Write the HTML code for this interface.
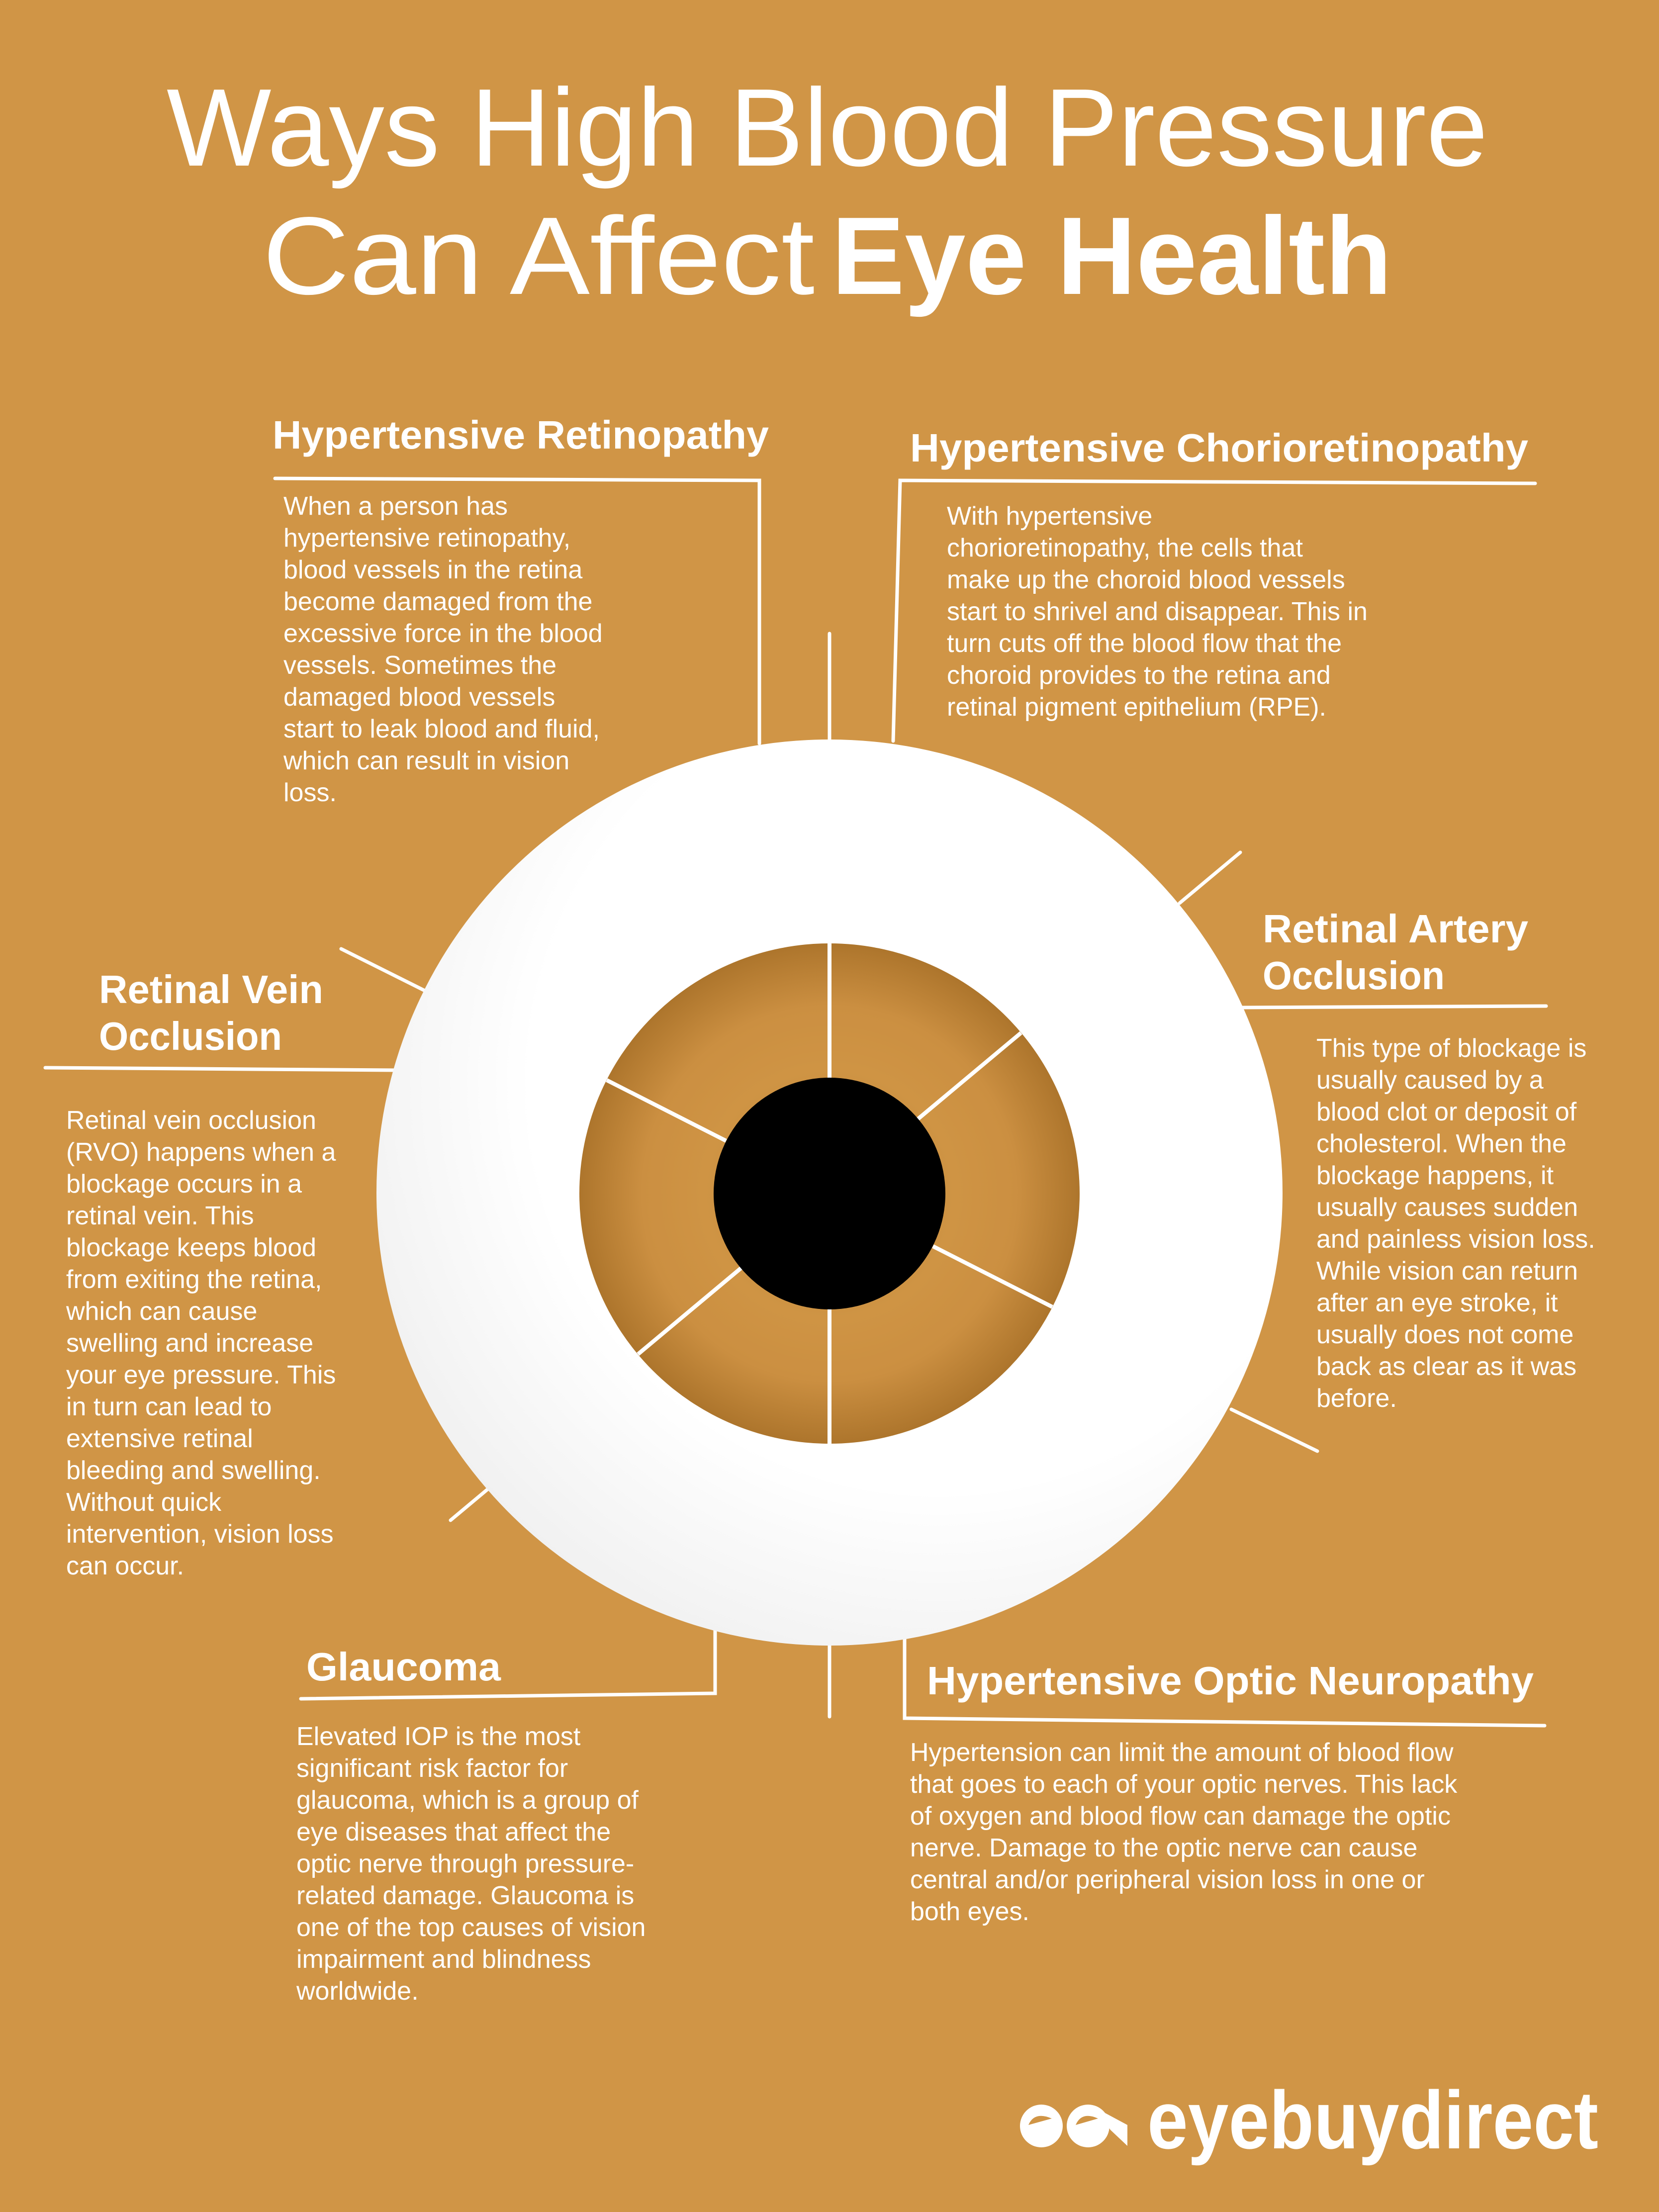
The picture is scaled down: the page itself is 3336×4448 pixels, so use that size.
<!DOCTYPE html>
<html><head><meta charset="utf-8"><style>
html,body{margin:0;padding:0;background:#D09546;}
svg{display:block;}
.t{font-family:"Liberation Sans",sans-serif;fill:#fff;}
.h{font-family:"Liberation Sans",sans-serif;font-weight:bold;fill:#fff;font-size:80px;}
.b{font-family:"Liberation Sans",sans-serif;fill:#fff;font-size:52px;}
</style></head><body>
<svg width="3336" height="4448" viewBox="0 0 3336 4448" xmlns="http://www.w3.org/2000/svg">
<defs>
<radialGradient id="wg" cx="62%" cy="38%" r="75%">
<stop offset="0" stop-color="#ffffff"/><stop offset="0.6" stop-color="#ffffff"/><stop offset="1" stop-color="#ececec"/>
</radialGradient>
<radialGradient id="ig" cx="50%" cy="50%" r="50%">
<stop offset="0" stop-color="#bf8436"/><stop offset="0.5" stop-color="#cf9444"/><stop offset="0.75" stop-color="#cb8f41"/><stop offset="1" stop-color="#ad752c"/>
</radialGradient>
</defs>
<rect width="3336" height="4448" fill="#D09546"/>

<!-- Title -->
<text class="t" x="335" y="333" font-size="222" textLength="2657" lengthAdjust="spacingAndGlyphs">Ways High Blood Pressure</text>
<text class="t" x="528" y="591" font-size="222" textLength="1110" lengthAdjust="spacingAndGlyphs">Can Affect</text>
<text class="t" x="1672" y="591" font-size="222" font-weight="bold" textLength="1127" lengthAdjust="spacingAndGlyphs">Eye Health</text>

<!-- connectors -->
<g stroke="#fff" stroke-width="7" fill="none" stroke-linecap="round">
<polyline points="553,962 1527,966 1527,1495"/>
<polyline points="3087,972 1810,966 1796,1490"/>
<line x1="1668" y1="1274" x2="1668" y2="1490"/>
<line x1="2372" y1="1816" x2="2494" y2="1714"/>
<line x1="2497" y1="2026" x2="3109" y2="2023"/>
<line x1="2476" y1="2834" x2="2649" y2="2918"/>
<line x1="686" y1="1908" x2="870" y2="2000"/>
<line x1="91" y1="2147" x2="800" y2="2152"/>
<line x1="906" y1="3057" x2="1163" y2="2842"/>
<polyline points="605,3416 1438,3405 1438,3000"/>
<line x1="1668" y1="3200" x2="1668" y2="3452"/>
<polyline points="1819,3100 1819,3455 3106,3470"/>
</g>

<!-- eye -->
<circle cx="1668" cy="2398" r="911" fill="url(#wg)"/>
<circle cx="1668" cy="2400" r="503" fill="url(#ig)"/>
<g stroke="#fff" stroke-width="8">
<line x1="1668" y1="2167" x2="1668" y2="1897"/>
<line x1="1846" y1="2250" x2="2053" y2="2077"/>
<line x1="1876" y1="2506" x2="2116" y2="2628"/>
<line x1="1668" y1="2633" x2="1668" y2="2903"/>
<line x1="1490" y1="2550" x2="1283" y2="2723"/>
<line x1="1460" y1="2294" x2="1220" y2="2172"/>
</g>
<circle cx="1668" cy="2400" r="233" fill="#000"/>

<!-- Hypertensive Retinopathy -->
<text class="h" x="548" y="902" textLength="998" lengthAdjust="spacingAndGlyphs">Hypertensive Retinopathy</text>
<g class="b">
<text x="570" y="1035">When a person has</text>
<text x="570" y="1099">hypertensive retinopathy,</text>
<text x="570" y="1163">blood vessels in the retina</text>
<text x="570" y="1227">become damaged from the</text>
<text x="570" y="1291">excessive force in the blood</text>
<text x="570" y="1355">vessels. Sometimes the</text>
<text x="570" y="1419">damaged blood vessels</text>
<text x="570" y="1483">start to leak blood and fluid,</text>
<text x="570" y="1547">which can result in vision</text>
<text x="570" y="1611">loss.</text>
</g>

<!-- Chorioretinopathy -->
<text class="h" x="1830" y="928" textLength="1243" lengthAdjust="spacingAndGlyphs">Hypertensive Chorioretinopathy</text>
<g class="b">
<text x="1904" y="1055">With hypertensive</text>
<text x="1904" y="1119">chorioretinopathy, the cells that</text>
<text x="1904" y="1183">make up the choroid blood vessels</text>
<text x="1904" y="1247">start to shrivel and disappear. This in</text>
<text x="1904" y="1311">turn cuts off the blood flow that the</text>
<text x="1904" y="1375">choroid provides to the retina and</text>
<text x="1904" y="1439">retinal pigment epithelium (RPE).</text>
</g>

<!-- Retinal Artery -->
<text class="h" x="2539" y="1895" textLength="534" lengthAdjust="spacingAndGlyphs">Retinal Artery</text>
<text class="h" x="2539" y="1989" textLength="366" lengthAdjust="spacingAndGlyphs">Occlusion</text>
<g class="b">
<text x="2647" y="2125">This type of blockage is</text>
<text x="2647" y="2189">usually caused by a</text>
<text x="2647" y="2253">blood clot or deposit of</text>
<text x="2647" y="2317">cholesterol. When the</text>
<text x="2647" y="2381">blockage happens, it</text>
<text x="2647" y="2445">usually causes sudden</text>
<text x="2647" y="2509">and painless vision loss.</text>
<text x="2647" y="2573">While vision can return</text>
<text x="2647" y="2637">after an eye stroke, it</text>
<text x="2647" y="2701">usually does not come</text>
<text x="2647" y="2765">back as clear as it was</text>
<text x="2647" y="2829">before.</text>
</g>

<!-- Retinal Vein -->
<text class="h" x="199" y="2017" textLength="451" lengthAdjust="spacingAndGlyphs">Retinal Vein</text>
<text class="h" x="199" y="2111" textLength="368" lengthAdjust="spacingAndGlyphs">Occlusion</text>
<g class="b">
<text x="133" y="2270">Retinal vein occlusion</text>
<text x="133" y="2334">(RVO) happens when a</text>
<text x="133" y="2398">blockage occurs in a</text>
<text x="133" y="2462">retinal vein. This</text>
<text x="133" y="2526">blockage keeps blood</text>
<text x="133" y="2590">from exiting the retina,</text>
<text x="133" y="2654">which can cause</text>
<text x="133" y="2718">swelling and increase</text>
<text x="133" y="2782">your eye pressure. This</text>
<text x="133" y="2846">in turn can lead to</text>
<text x="133" y="2910">extensive retinal</text>
<text x="133" y="2974">bleeding and swelling.</text>
<text x="133" y="3038">Without quick</text>
<text x="133" y="3102">intervention, vision loss</text>
<text x="133" y="3166">can occur.</text>
</g>

<!-- Glaucoma -->
<text class="h" x="616" y="3379" textLength="391" lengthAdjust="spacingAndGlyphs">Glaucoma</text>
<g class="b">
<text x="596" y="3509">Elevated IOP is the most</text>
<text x="596" y="3573">significant risk factor for</text>
<text x="596" y="3637">glaucoma, which is a group of</text>
<text x="596" y="3701">eye diseases that affect the</text>
<text x="596" y="3765">optic nerve through pressure-</text>
<text x="596" y="3829">related damage. Glaucoma is</text>
<text x="596" y="3893">one of the top causes of vision</text>
<text x="596" y="3957">impairment and blindness</text>
<text x="596" y="4021">worldwide.</text>
</g>

<!-- Optic Neuropathy -->
<text class="h" x="1864" y="3407" textLength="1220" lengthAdjust="spacingAndGlyphs">Hypertensive Optic Neuropathy</text>
<g class="b">
<text x="1830" y="3541">Hypertension can limit the amount of blood flow</text>
<text x="1830" y="3605">that goes to each of your optic nerves. This lack</text>
<text x="1830" y="3669">of oxygen and blood flow can damage the optic</text>
<text x="1830" y="3733">nerve. Damage to the optic nerve can cause</text>
<text x="1830" y="3797">central and/or peripheral vision loss in one or</text>
<text x="1830" y="3861">both eyes.</text>
</g>

<!-- Logo -->
<circle cx="2094" cy="4275" r="43" fill="#fff"/>
<circle cx="2188" cy="4275" r="43" fill="#fff"/>
<polygon points="2200,4237 2267,4273 2267,4315 2233,4283" fill="#fff"/>
<path d="M2068,4273 Q2080,4245 2115,4260 Z" fill="#D09546"/>
<path d="M2163,4273 Q2175,4245 2208,4260 Z" fill="#D09546"/>
<text class="t" x="2307" y="4320" font-size="165" font-weight="bold" textLength="907" lengthAdjust="spacingAndGlyphs">eyebuydirect</text>
</svg>
</body></html>
